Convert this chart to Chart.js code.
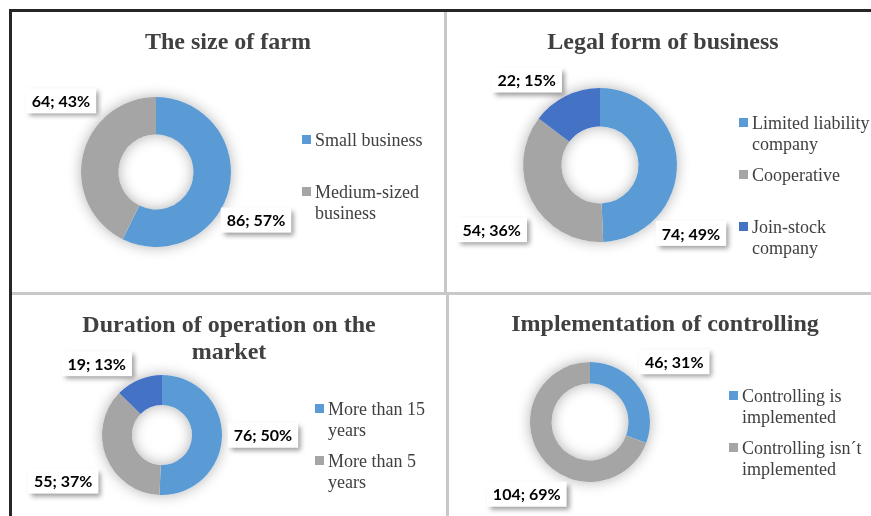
<!DOCTYPE html>
<html>
<head>
<meta charset="utf-8">
<script src="https://cdn.jsdelivr.net/npm/chart.js@4.4.0/dist/chart.umd.min.js"></script>
<style>
    body { margin: 0; width: 871px; height: 516px; background: #fff; position: relative; overflow: hidden; }
    .rule { position: absolute; }
    .panel { position: absolute; }
    .panel canvas { position: absolute; left: 0; top: 0; }
    .title { position: absolute; font: bold 24px/27px "Liberation Serif", "Times New Roman", serif; color: #404040; text-align: center; }
    .legend { position: absolute; font: 18px/21px "Liberation Serif", "Times New Roman", serif; color: #404040; }
    .legend-item { position: relative; height: 52px; padding-left: 13px; }
    .legend-item .swatch { position: absolute; left: 0; top: 5px; width: 9px; height: 9px; }
</style>
</head>
<body>

<script>
// Data
const farmSizeLabels = ['Small business', 'Medium-sized business'];
const farmSizeValues = [86, 64];
const farmSizePercents = [57, 43];

const legalFormLabels = ['Limited liability company', 'Cooperative', 'Join-stock company'];
const legalFormValues = [74, 54, 22];
const legalFormPercents = [49, 36, 15];

// third slice has no legend entry in the source
const durationLabels = ['More than 15 years', 'More than 5 years', null];
const durationValues = [76, 55, 19];
const durationPercents = [50, 37, 13];

const controllingLabels = ['Controlling is implemented', 'Controlling isn\u00b4t implemented'];
const controllingValues = [46, 104];
const controllingPercents = [31, 69];

const sliceColors = ['#5B9BD5', '#A5A5A5', '#4472C4'];

// Soft glow under the ring, like the Excel shadow
const ringShadow = {
    id: 'ringShadow',
    beforeDatasetsDraw(chart) {
        const arc = chart.getDatasetMeta(0).data[0];
        if (!arc) return;
        const { x, y, outerRadius, innerRadius } = arc.getProps(['x', 'y', 'outerRadius', 'innerRadius'], true);
        const ctx = chart.ctx;
        ctx.save();
        ctx.shadowColor = 'rgba(0, 0, 0, 0.3)';
        ctx.shadowBlur = 14;
        ctx.fillStyle = '#fff';
        ctx.beginPath();
        ctx.arc(x, y, outerRadius, 0, Math.PI * 2);
        ctx.arc(x, y, innerRadius, 0, Math.PI * 2, true);
        ctx.fill();
        ctx.restore();
    }
};

// "value; percent" boxes next to each slice
const boxLabels = {
    id: 'boxLabels',
    afterDatasetsDraw(chart, args, opts) {
        const ctx = chart.ctx;
        const values = chart.data.datasets[0].data;
        chart.getDatasetMeta(0).data.forEach((arc, i) => {
            const { x, y, startAngle, endAngle, outerRadius } =
                arc.getProps(['x', 'y', 'startAngle', 'endAngle', 'outerRadius'], true);
            const mid = (startAngle + endAngle) / 2;
            const off = opts.offsets[i] || [0, 0];
            const cx = x + Math.cos(mid) * outerRadius + off[0];
            const cy = y + Math.sin(mid) * outerRadius + off[1];
            const text = `${values[i]}; ${opts.percents[i]}%`;

            ctx.save();
            ctx.font = opts.font;
            const w = ctx.measureText(text).width + 12;
            const h = 25;
            ctx.shadowColor = 'rgba(0, 0, 0, 0.4)';
            ctx.shadowBlur = 5;
            ctx.shadowOffsetX = 3;
            ctx.shadowOffsetY = 3;
            ctx.fillStyle = '#fff';
            ctx.fillRect(cx - w / 2, cy - h / 2, w, h);
            ctx.shadowColor = 'transparent';
            ctx.fillStyle = '#000';
            ctx.textAlign = 'center';
            ctx.textBaseline = 'middle';
            ctx.fillText(text, cx, cy + 1);
            ctx.restore();
        });
    }
};

// Frame lines
function addRule(left, top, width, height, color) {
    const el = document.createElement('div');
    el.className = 'rule';
    Object.assign(el.style, { left: left + 'px', top: top + 'px', width: width + 'px', height: height + 'px', background: color });
    document.body.appendChild(el);
}

// Build one panel: title, doughnut canvas, html legend
function makeDonut(cfg) {
    const panel = document.createElement('div');
    panel.className = 'panel';
    Object.assign(panel.style, { left: cfg.box.left + 'px', top: cfg.box.top + 'px', width: cfg.box.width + 'px', height: cfg.box.height + 'px' });
    document.body.appendChild(panel);

    const canvas = document.createElement('canvas');
    canvas.width = cfg.box.width;
    canvas.height = cfg.box.height;
    panel.appendChild(canvas);

    const title = document.createElement('div');
    title.className = 'title';
    title.textContent = cfg.title;
    Object.assign(title.style, { left: (cfg.titleCenter - cfg.titleWidth / 2) + 'px', top: cfg.titleTop + 'px', width: cfg.titleWidth + 'px' });
    panel.appendChild(title);

    const legend = document.createElement('div');
    legend.className = 'legend';
    Object.assign(legend.style, { left: cfg.legendLeft + 'px', top: cfg.legendTop + 'px', width: (cfg.legendWidth + 13) + 'px' });
    cfg.labels.forEach((label, i) => {
        if (!label) return;
        const item = document.createElement('div');
        item.className = 'legend-item';
        const sw = document.createElement('span');
        sw.className = 'swatch';
        sw.style.background = sliceColors[i];
        item.appendChild(sw);
        item.appendChild(document.createTextNode(label));
        legend.appendChild(item);
    });
    panel.appendChild(legend);

    return new Chart(canvas, {
        type: 'doughnut',
        data: {
            labels: cfg.labels.map(l => l || ''),
            datasets: [{
                data: cfg.values,
                backgroundColor: sliceColors.slice(0, cfg.values.length),
                borderWidth: 0,
                hoverOffset: 0,
                offset: 0
            }]
        },
        options: {
            responsive: false,
            animation: false,
            events: [],
            cutout: cfg.cutout,
            layout: { padding: cfg.padding },
            plugins: {
                legend: { display: false },
                tooltip: { enabled: false },
                boxLabels: { offsets: cfg.labelOffsets, percents: cfg.percents, font: 'bold 16px Lato, "Noto Sans", sans-serif' }
            }
        },
        plugins: [ringShadow, boxLabels]
    });
}

addRule(9, 9, 862, 3, '#262626');
addRule(9, 9, 3, 507, '#262626');
addRule(444, 12, 3, 280, '#c8c8c8');
addRule(12, 292, 859, 3, '#c8c8c8');
addRule(446, 295, 3, 221, '#c8c8c8');

makeDonut({
    title: 'The size of farm',
    labels: farmSizeLabels, values: farmSizeValues, percents: farmSizePercents,
    box: { left: 12, top: 12, width: 432, height: 280 },
    titleCenter: 216, titleWidth: 400, titleTop: 16,
    legendLeft: 290, legendTop: 118, legendWidth: 120,
    padding: { left: 69, top: 85, right: 213, bottom: 45 },
    cutout: '50%',
    labelOffsets: [[27, 31], [-22, -54]]
});

makeDonut({
    title: 'Legal form of business',
    labels: legalFormLabels, values: legalFormValues, percents: legalFormPercents,
    box: { left: 447, top: 12, width: 424, height: 280 },
    titleCenter: 216, titleWidth: 400, titleTop: 16,
    legendLeft: 292, legendTop: 101, legendWidth: 125,
    padding: { left: 76, top: 76, right: 194, bottom: 50 },
    cutout: '50%',
    labelOffsets: [[14, 70], [-40, 29], [-39, -16]]
});

makeDonut({
    title: 'Duration of operation on the market',
    labels: durationLabels, values: durationValues, percents: durationPercents,
    box: { left: 12, top: 295, width: 433, height: 221 },
    titleCenter: 217, titleWidth: 320, titleTop: 16,
    legendLeft: 303, legendTop: 104, legendWidth: 105,
    padding: { left: 90, top: 80, right: 223, bottom: 21 },
    cutout: '50%',
    labelOffsets: [[41, -1], [-43, 24], [-42, -16]]
});

makeDonut({
    title: 'Implementation of controlling',
    labels: controllingLabels, values: controllingValues, percents: controllingPercents,
    box: { left: 448, top: 295, width: 423, height: 221 },
    titleCenter: 217, titleWidth: 400, titleTop: 15,
    legendLeft: 281, legendTop: 91, legendWidth: 130,
    padding: { left: 82, top: 67, right: 221, bottom: 34 },
    cutout: '64%',
    labelOffsets: [[35, -26], [-14, 38]]
});
</script>
</body>
</html>
